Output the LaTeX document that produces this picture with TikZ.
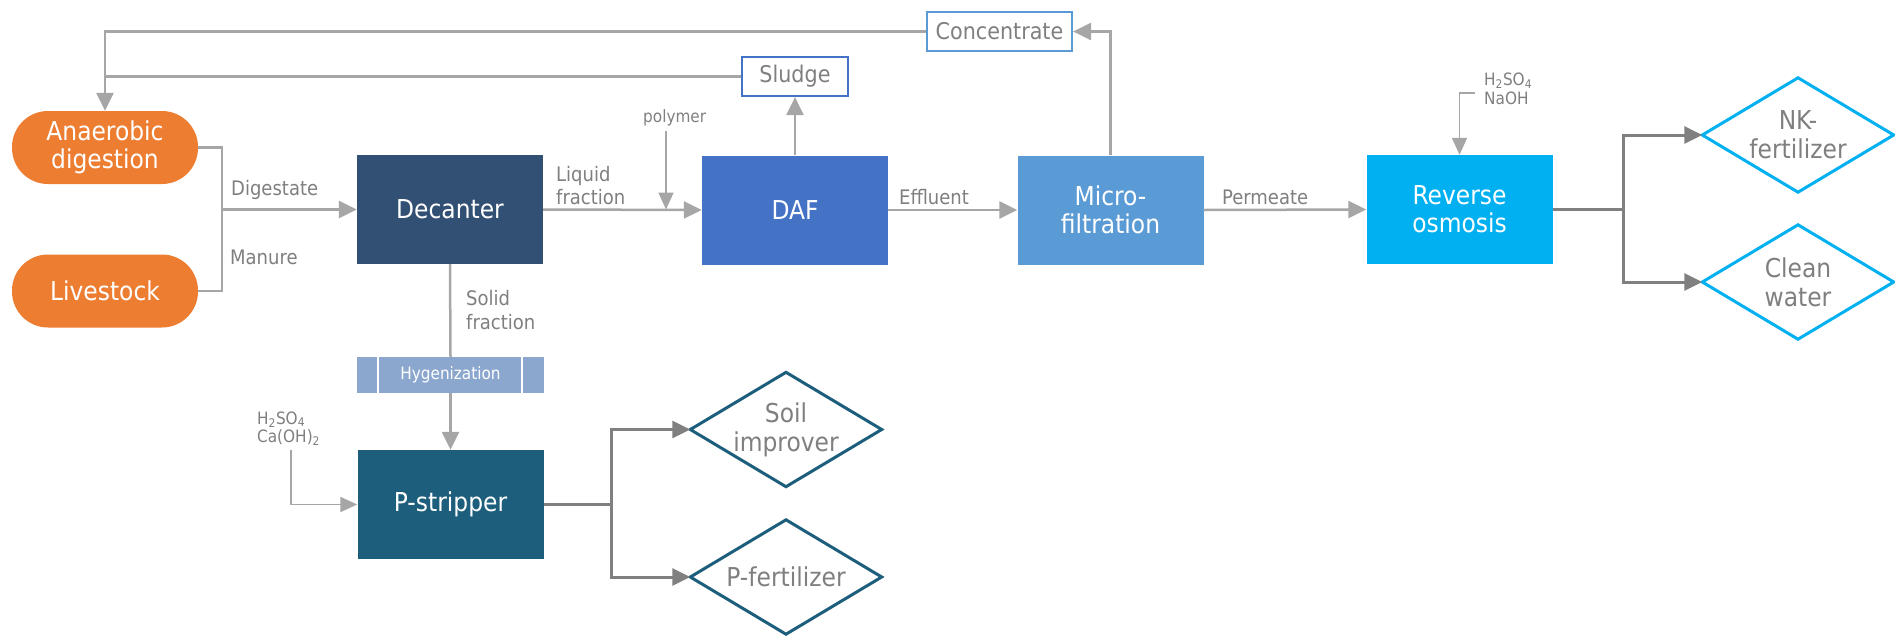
\documentclass[tikz,border=0pt]{standalone}
\usepackage{fontspec}
\setmainfont{DejaVu Sans Condensed}
\usetikzlibrary{arrows.meta,calc}
\definecolor{cOrange}{HTML}{ED7D31}
\definecolor{cDec}{HTML}{324F74}
\definecolor{cDAF}{HTML}{4472C4}
\definecolor{cMF}{HTML}{5B9BD5}
\definecolor{cRO}{HTML}{00B0F0}
\definecolor{cPS}{HTML}{1D5E7C}
\definecolor{cHyg}{HTML}{8BA7CE}
\definecolor{cLine}{HTML}{A6A6A6}
\definecolor{cDark}{HTML}{808080}
\definecolor{cText}{HTML}{7F7F7F}
\tikzset{
 proc/.style={rectangle, fill=#1, text=white, minimum width=186pt, minimum height=109pt, inner sep=0pt, align=center, font=\fontsize{26}{28}\selectfont},
 pill/.style={rectangle, rounded corners=36pt, fill=cOrange, text=white, minimum width=186pt, minimum height=73pt, inner sep=0pt, align=center, font=\fontsize{26}{28}\selectfont},
 prod/.style={rectangle, minimum width=191pt, minimum height=114pt, inner sep=0pt, align=center, text=cText, font=\fontsize{26}{29}\selectfont},
 outbox/.style={rectangle, draw=#1, fill=white, line width=2.2pt, inner sep=0pt, text=cText, font=\fontsize{23}{25}\selectfont},
 lab/.style={text=cText, align=left, inner sep=0pt, font=\fontsize{20}{23.5}\selectfont},
 small/.style={text=cText, align=left, inner sep=0pt, font=\fontsize{17}{18.5}\selectfont},
 flow/.style={draw=cLine, line width=2.5pt, -{Triangle[length=18pt,width=17pt]}},
 plain/.style={draw=cLine, line width=2.5pt},
 chem/.style={draw=cLine, line width=1.8pt, -{Triangle[length=17pt,width=15pt]}},
 outflow/.style={draw=cDark, line width=3pt, -{Triangle[length=18pt,width=17pt]}},
 diam/.style={draw=#1, line width=3pt, line join=miter},
}
\begin{document}
\begin{tikzpicture}[x=1pt,y=-1pt]
\useasboundingbox (0,0) rectangle (1895,635);
% process nodes
\node[pill] (AD) at (105,147.5) {Anaerobic\\digestion};
\node[pill] (LS) at (105,291) {Livestock};
\node[proc=cDec] (Dec) at (450,209.5) {Decanter};
\node[proc=cDAF] (DAF) at (795,210) {DAF};
\node[proc=cMF] (MF) at (1110.5,210) {Micro-\\filtration};
\node[proc=cRO] (RO) at (1459.5,209.5) {Reverse\\osmosis};
\node[proc=cPS] (PS) at (450.5,504.5) {P-stripper};
\node[rectangle, fill=cHyg, minimum width=187pt, minimum height=36pt, inner sep=0pt, text=white, font=\fontsize{17}{19}\selectfont] (Hyg) at (450.5,375) {Hygenization};
\draw[white, line width=2pt] (378,357) -- (378,393) (522,357) -- (522,393);
\node[outbox=cMF, minimum width=145pt, minimum height=39pt] (Conc) at (999.5,31.5) {Concentrate};
\node[outbox=cDAF, minimum width=106pt, minimum height=39pt] (Sl) at (795,76.5) {Sludge};
% products
\node[prod] (NK) at (1798,135) {NK-\\fertilizer};
\node[prod] (CW) at (1798,282) {Clean\\water};
\node[prod] (SI) at (786,429.5) {Soil\\improver};
\node[prod] (PF) at (786,577) {P-fertilizer};
\draw[diam=cRO] (NK.west) -- (NK.north) -- (NK.east) -- (NK.south) -- cycle;
\draw[diam=cRO] (CW.west) -- (CW.north) -- (CW.east) -- (CW.south) -- cycle;
\draw[diam=cPS] (SI.west) -- (SI.north) -- (SI.east) -- (SI.south) -- cycle;
\draw[diam=cPS] (PF.west) -- (PF.north) -- (PF.east) -- (PF.south) -- cycle;
% labels
\node[lab, anchor=west] (digl) at (231,190) {Digestate};
\node[lab, anchor=west] (manl) at (230,257) {Manure};
\node[lab, anchor=west] (liql) at (556,185.5) {Liquid\\fraction};
\node[small, anchor=west] (polyl) at (643,118) {polymer};
\node[lab, anchor=west] (effl) at (899,197) {Effluent};
\node[lab, anchor=west] (perml) at (1222,197) {Permeate};
\node[lab, anchor=west] (solidl) at (466,310) {Solid\\fraction};
\node[small, anchor=west] (chemRl) at (1484,89) {H\textsubscript{2}SO\textsubscript{4}\\NaOH};
\node[small, anchor=west] (chemPl) at (257,428.5) {H\textsubscript{2}SO\textsubscript{4}\\Ca(OH)\textsubscript{2}};
% helper coordinates
\coordinate (brk) at (222,209.5);
\coordinate (polyTop) at (666,131);
\coordinate (polyTip) at (666,209.5);
\coordinate (chemA) at (1475,93);
\coordinate (splitR) at (1623,209.5);
\coordinate (chemB) at (291,450);
\coordinate (splitP) at (611,504.5);
% connectors
\draw[plain] (LS.east) -| (brk);
\draw[plain] (AD.east) -| (brk);
\draw[flow] (brk) -- (Dec.west);
\draw[flow] (Dec.east) -- (DAF.west);
\draw[chem] (polyTop) -- (polyTip);
\draw[flow] (DAF.north) -- (Sl.south);
\draw[plain] (Sl.west) -- (Sl.west -| AD.north);
\draw[flow] (Conc.west) -| (AD.north);
\draw[flow] (DAF.east) -- (MF.west);
\draw[flow] (MF.north) |- (Conc.east);
\draw[flow] (MF.east) -- (RO.west);
\draw[chem] (chemA) -| (RO.north);
\draw[outflow] (RO.east) -- (splitR) |- (NK.west);
\draw[outflow] (splitR) |- (CW.west);
\draw[plain] (Dec.south) -- (Hyg.north);
\draw[flow] (Hyg.south) -- (PS.north);
\draw[chem] (chemB) |- (PS.west);
\draw[outflow] (PS.east) -- (splitP) |- (SI.west);
\draw[outflow] (splitP) |- (PF.west);
\end{tikzpicture}
\end{document}
